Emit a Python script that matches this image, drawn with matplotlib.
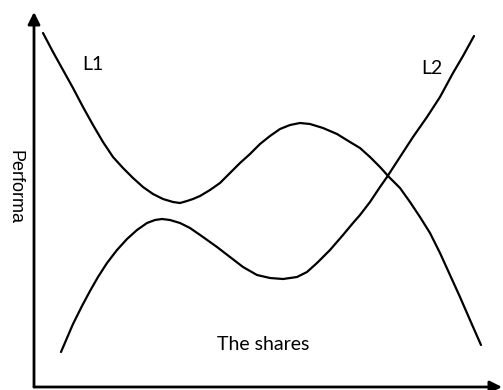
import matplotlib.pyplot as plt

# values (shares on x, performance on y)
l1_x = [9, 19, 29, 39, 49, 59, 69, 79, 89, 99, 109, 119, 129, 139, 146, 153, 159, 166,
        176, 186, 196, 206, 216, 226, 236, 246, 256, 266, 276, 289, 303, 316, 326, 336,
        346, 355, 366, 376, 386, 396, 406, 416, 426, 436, 447]
l1_y = [354, 335, 317, 299, 280, 262, 245, 230, 219, 209, 200, 193, 188, 185, 184, 186,
        188, 191, 197, 204, 214, 224, 233, 243, 251, 258, 262, 264, 263, 259, 253, 245,
        239, 230, 220, 210, 199, 185, 170, 154, 134, 112, 90, 67, 42]

l2_x = [27, 33, 39, 48, 56, 64, 73, 83, 93, 103, 113, 121, 128, 136, 146, 156, 169,
        183, 196, 209, 223, 236, 249, 263, 273, 283, 296, 309, 319, 326, 336, 346, 353,
        366, 379, 393, 406, 419, 429, 440]
l2_y = [35, 49, 63, 81, 96, 110, 124, 137, 148, 157, 164, 167, 168, 167, 164, 159, 150,
        140, 130, 120, 112, 109, 108, 110, 115, 124, 137, 152, 164, 172, 185, 200, 210,
        230, 250, 270, 290, 314, 331, 351]

plt.rcParams['font.family'] = ['Lato', 'DejaVu Sans']

fig = plt.figure(figsize=(5.03, 3.9), dpi=100)
ax = fig.add_axes([34 / 503, 3 / 390, 468 / 503, 375 / 390])
ax.set_xlim(0, 468)
ax.set_ylim(0, 375)
ax.axis('off')

ax.plot(l1_x, l1_y, color='black', lw=1.6, solid_joinstyle='round', solid_capstyle='round')
ax.plot(l2_x, l2_y, color='black', lw=1.6, solid_joinstyle='round', solid_capstyle='round')

# axes drawn as arrows
arrow = dict(arrowstyle='-|>', lw=2, color='black', mutation_scale=18, shrinkA=0, shrinkB=0)
ax.annotate('', xy=(0, 1), xytext=(0, 0), xycoords='axes fraction', arrowprops=arrow)
ax.annotate('', xy=(1, 0), xytext=(0, 0), xycoords='axes fraction', arrowprops=arrow)

ax.text(59, 322, 'L1', fontsize=14, ha='center', va='center')
ax.text(398, 319, 'L2', fontsize=14, ha='center', va='center')
ax.text(229, 42, 'The shares', fontsize=14, ha='center', va='center')
fig.text(15 / 503, 1 - 187 / 390, 'Performa', fontsize=13, rotation=-90,
         ha='center', va='center', family=['Liberation Sans', 'DejaVu Sans'])

fig.savefig('out.png', dpi=100)
